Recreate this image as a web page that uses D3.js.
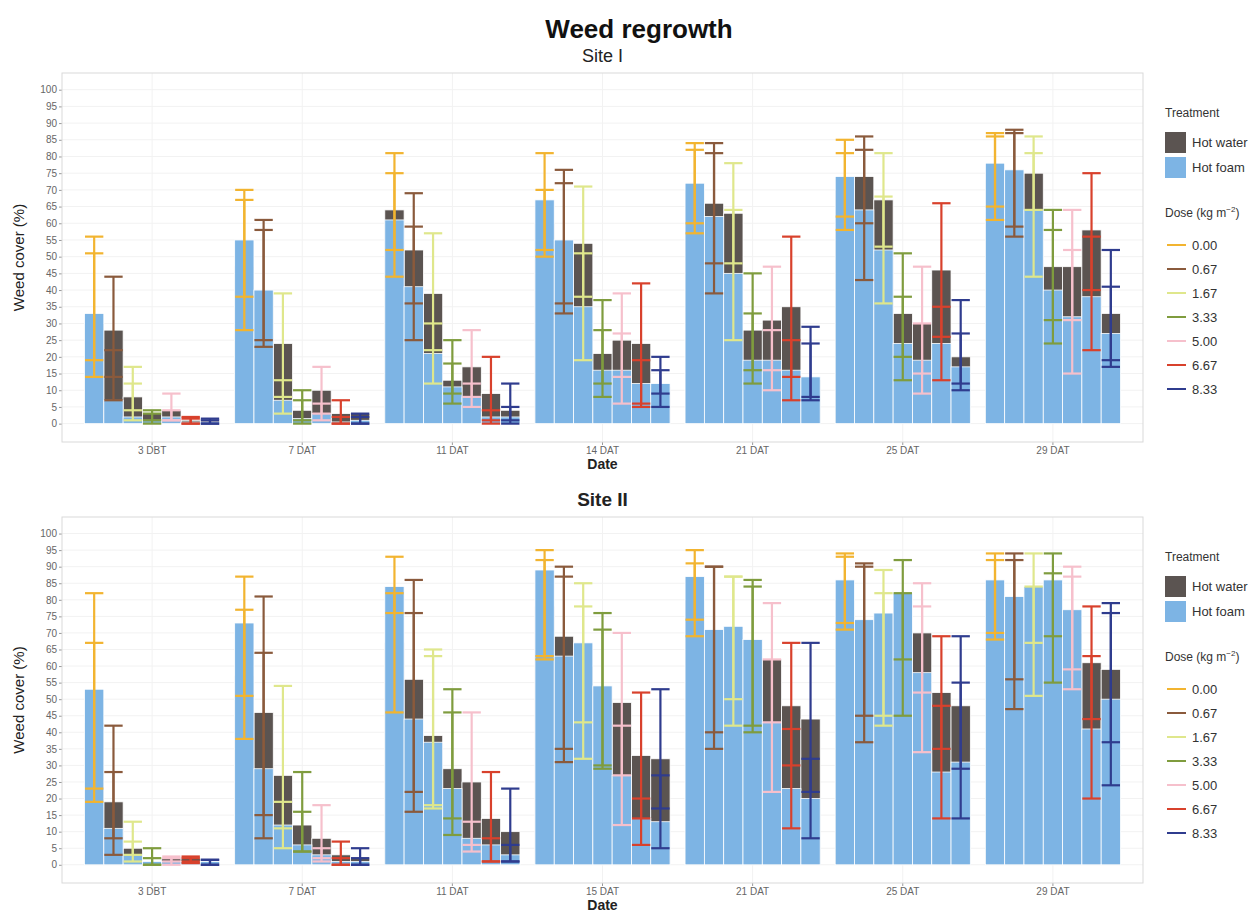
<!DOCTYPE html>
<html>
<head>
<meta charset="utf-8">
<script src="https://cdn.jsdelivr.net/npm/d3@7"></script>
<style>
  body { margin: 0; background: #fff; }
  text { font-family: "Liberation Sans", Arial, sans-serif; }
</style>
</head>
<body>
<div id="chart"></div>
<script>
// ---- data ----
const doses = ["0.00", "0.67", "1.67", "3.33", "5.00", "6.67", "8.33"];
const doseColors = ["#f2b430", "#8a5a3c", "#dfe78c", "#7f9c3e", "#f6c0cc", "#d8412c", "#2f3c8e"];
const treatments = ["Hot water", "Hot foam"];
const treatColors = ["#5b5451", "#7db4e4"];
const yTicks = [0, 5, 10, 15, 20, 25, 30, 35, 40, 45, 50, 55, 60, 65, 70, 75, 80, 85, 90, 95, 100];

// Site I
const dates1 = ["3 DBT", "7 DAT", "11 DAT", "14 DAT", "21 DAT", "25 DAT", "29 DAT"];
const foam1 = [
  [33, 7, 2, 1, 2, 0.5, 0.5],
  [55, 40, 7, 1.5, 3, 0.5, 1],
  [61, 41, 21, 11, 8, 2, 2],
  [67, 55, 35, 16, 16, 12, 12],
  [72, 62, 45, 19, 19, 16, 14],
  [74, 64, 52, 24, 19, 24, 17],
  [78, 76, 64, 40, 32, 38, 27]
];
const water1 = [
  [30, 28, 8, 3, 4, 1, 0.8],
  [47, 38, 24, 4, 10, 3, 3],
  [64, 52, 39, 13, 17, 9, 4],
  [60, 54, 54, 21, 25, 24, 11],
  [70, 66, 63, 28, 31, 35, 13],
  [70, 74, 67, 33, 30, 46, 20],
  [73, 72, 75, 47, 47, 58, 33]
];
const foamLo1 = [
  [14, 7, 1, 0, 1, 0, 0],
  [38, 23, 3, 0, 1, 0, 0],
  [44, 25, 12, 6, 5, 0, 1],
  [52, 36, 19, 8, 6, 5, 5],
  [60, 39, 25, 16, 10, 7, 7],
  [62, 43, 36, 13, 9, 13, 10],
  [65, 59, 44, 24, 15, 22, 19]
];
const foamHi1 = [
  [51, 22, 12, 3, 4, 1.5, 1],
  [70, 58, 13, 7, 6, 2, 2],
  [81, 59, 30, 25, 12, 4, 5],
  [81, 72, 51, 37, 27, 19, 20],
  [84, 84, 64, 33, 28, 25, 24],
  [85, 82, 68, 38, 30, 35, 27],
  [87, 88, 81, 58, 52, 56, 41]
];
const waterLo1 = [
  [19, 14, 4, 1, 1, 0, 0],
  [28, 25, 8, 1, 3, 0, 0],
  [52, 36, 22, 9, 8, 1, 0],
  [50, 33, 38, 12, 14, 6, 9],
  [57, 48, 48, 12, 16, 14, 8],
  [58, 60, 53, 20, 15, 26, 12],
  [61, 56, 64, 31, 31, 40, 17]
];
const waterHi1 = [
  [56, 44, 17, 4, 9, 2, 1.5],
  [67, 61, 39, 10, 17, 7, 3],
  [75, 69, 57, 18, 28, 20, 12],
  [70, 76, 71, 28, 39, 42, 16],
  [82, 81, 78, 45, 47, 56, 29],
  [81, 86, 81, 51, 47, 66, 37],
  [86, 87, 86, 64, 64, 75, 52]
];

// Site II
const dates2 = ["3 DBT", "7 DAT", "11 DAT", "15 DAT", "21 DAT", "25 DAT", "29 DAT"];
const foam2 = [
  [53, 11, 3, 1, 1, 1, 1],
  [73, 29, 12, 6, 3, 1, 1],
  [84, 44, 37, 23, 8, 6, 3],
  [89, 63, 67, 54, 27, 14, 13],
  [87, 71, 72, 68, 43, 23, 20],
  [86, 74, 76, 82, 58, 28, 31],
  [86, 81, 84, 86, 77, 41, 50]
];
const water2 = [
  [43, 19, 5, 1, 2, 2, 1],
  [57, 46, 27, 12, 8, 3, 2],
  [67, 56, 39, 29, 25, 14, 10],
  [78, 69, 60, 50, 49, 33, 32],
  [80, 63, 65, 62, 62, 48, 44],
  [80, 64, 65, 62, 70, 52, 48],
  [80, 70, 67, 70, 70, 61, 59]
];
const foamLo2 = [
  [23, 3, 1, 0, 0, 0.5, 0],
  [51, 8, 5, 4, 1, 0, 0],
  [76, 16, 18, 14, 4, 1, 1],
  [62, 31, 43, 30, 12, 6, 5],
  [74, 40, 50, 42, 22, 11, 8],
  [73, 45, 45, 62, 34, 14, 14],
  [70, 56, 67, 69, 59, 20, 24]
];
const foamHi2 = [
  [82, 42, 7, 5, 2, 2, 1.5],
  [87, 64, 19, 16, 5, 2, 2],
  [93, 76, 65, 46, 13, 8, 6],
  [95, 87, 85, 76, 42, 20, 27],
  [95, 90, 87, 86, 62, 41, 32],
  [94, 91, 89, 92, 78, 48, 55],
  [94, 94, 94, 94, 90, 63, 76]
];
const waterLo2 = [
  [19, 8, 3, 0, 1, 1, 0],
  [38, 15, 11, 4, 2, 0, 0],
  [46, 22, 17, 9, 6, 1, 1],
  [63, 35, 32, 29, 27, 14, 17],
  [69, 35, 42, 40, 43, 30, 22],
  [71, 37, 42, 45, 52, 35, 29],
  [68, 47, 51, 55, 53, 44, 37]
];
const waterHi2 = [
  [67, 28, 13, 2, 2.5, 2.5, 1.5],
  [77, 81, 54, 28, 18, 7, 5],
  [82, 86, 63, 53, 46, 28, 23],
  [92, 90, 78, 71, 70, 52, 53],
  [91, 90, 87, 84, 79, 67, 67],
  [93, 90, 82, 82, 85, 69, 69],
  [92, 92, 84, 88, 87, 78, 79]
];

// ---- layout ----
const width = 1258, height = 915;
const left = 62, right = 1143;

const svg = d3.select("#chart").append("svg")
  .attr("width", width)
  .attr("height", height);

const doseColor = d3.scaleOrdinal().domain(doses).range(doseColors);

svg.append("text")
  .attr("x", 639).attr("y", 38)
  .attr("text-anchor", "middle")
  .style("font-size", "26px").style("font-weight", "bold")
  .attr("fill", "#111")
  .text("Weed regrowth");

function drawPanel(top, bottom, title, titleBold, dates, foam, water, fLo, fHi, wLo, wHi) {

  const x = d3.scaleBand().domain(dates).range([left, right])
    .paddingInner(0.1).paddingOuter(0.15);
  const xd = d3.scaleBand().domain(doses).range([0, x.bandwidth()]);
  const y = d3.scaleLinear().domain([-5.5, 105]).range([bottom, top]);

  const g = svg.append("g");

  g.append("text")
    .attr("x", (left + right) / 2).attr("y", top - 11)
    .attr("text-anchor", "middle")
    .style("font-size", titleBold ? "19px" : "18px")
    .style("font-weight", titleBold ? "bold" : "normal")
    .attr("fill", "#222")
    .text(title);

  // faint grid
  g.append("g").selectAll("line")
    .data(yTicks)
    .join("line")
    .attr("x1", left).attr("x2", right)
    .attr("y1", d => y(d)).attr("y2", d => y(d))
    .attr("stroke", "#f2f2f2");
  g.append("g").selectAll("line")
    .data(dates)
    .join("line")
    .attr("x1", d => x(d) + x.bandwidth() / 2).attr("x2", d => x(d) + x.bandwidth() / 2)
    .attr("y1", top).attr("y2", bottom)
    .attr("stroke", "#f2f2f2");

  const cells = [];
  dates.forEach((dt, i) => doses.forEach((ds, j) => cells.push({
    date: dt, dose: ds,
    foam: foam[i][j], water: water[i][j],
    fLo: fLo[i][j], fHi: fHi[i][j], wLo: wLo[i][j], wHi: wHi[i][j]
  })));

  const bx = d => x(d.date) + xd(d.dose);

  // hot water bars, hot foam drawn over them
  g.append("g").selectAll("rect")
    .data(cells)
    .join("rect")
    .attr("x", bx)
    .attr("width", xd.bandwidth())
    .attr("y", d => y(d.water))
    .attr("height", d => y(0) - y(d.water))
    .attr("fill", treatColors[0])
    .attr("stroke", "#fff").attr("stroke-width", 0.8);

  g.append("g").selectAll("rect")
    .data(cells)
    .join("rect")
    .attr("x", bx)
    .attr("width", xd.bandwidth())
    .attr("y", d => y(d.foam))
    .attr("height", d => y(0) - y(d.foam))
    .attr("fill", treatColors[1])
    .attr("stroke", "#fff").attr("stroke-width", 0.8);

  // error bars, one per treatment, coloured by dose
  const errs = cells.flatMap(d => [
    { date: d.date, dose: d.dose, lo: d.wLo, hi: d.wHi },
    { date: d.date, dose: d.dose, lo: d.fLo, hi: d.fHi }
  ]);
  const capW = xd.bandwidth() * 0.95;

  const eb = g.append("g").selectAll("g")
    .data(errs)
    .join("g")
    .attr("stroke", d => doseColor(d.dose))
    .attr("stroke-width", 2.2)
    .attr("transform", d => `translate(${bx(d) + xd.bandwidth() / 2},0)`);
  eb.append("line")
    .attr("x1", 0).attr("x2", 0)
    .attr("y1", d => y(d.lo)).attr("y2", d => y(d.hi));
  eb.append("line")
    .attr("x1", -capW / 2).attr("x2", capW / 2)
    .attr("y1", d => y(d.lo)).attr("y2", d => y(d.lo));
  eb.append("line")
    .attr("x1", -capW / 2).attr("x2", capW / 2)
    .attr("y1", d => y(d.hi)).attr("y2", d => y(d.hi));

  // axes
  const yAxis = g.append("g")
    .attr("transform", `translate(${left},0)`)
    .call(d3.axisLeft(y).tickValues(yTicks).tickSize(3).tickPadding(2));
  yAxis.select(".domain").remove();
  yAxis.selectAll(".tick line").attr("stroke", "#999");
  yAxis.selectAll("text").attr("fill", "#666").style("font-size", "10px");

  const xAxis = g.append("g")
    .attr("transform", `translate(0,${bottom})`)
    .call(d3.axisBottom(x).tickSize(3).tickPadding(2));
  xAxis.select(".domain").remove();
  xAxis.selectAll(".tick line").attr("stroke", "#999");
  xAxis.selectAll("text").attr("fill", "#666").style("font-size", "10px");

  g.append("rect")
    .attr("x", left).attr("y", top)
    .attr("width", right - left).attr("height", bottom - top)
    .attr("fill", "none")
    .attr("stroke", "#d9d9d9");

  g.append("text")
    .attr("x", (left + right) / 2).attr("y", bottom + 27)
    .attr("text-anchor", "middle")
    .style("font-size", "14px").style("font-weight", "bold")
    .attr("fill", "#222")
    .text("Date");

  g.append("text")
    .attr("transform", `translate(24,${(top + bottom) / 2}) rotate(-90)`)
    .attr("text-anchor", "middle")
    .style("font-size", "15px")
    .attr("fill", "#222")
    .text("Weed cover (%)");

  drawLegend(top + 44);
}

function drawLegend(ty) {
  const lg = svg.append("g").attr("transform", `translate(1165,${ty})`);

  lg.append("text").attr("y", 0)
    .style("font-size", "12px").attr("fill", "#333")
    .text("Treatment");

  const tk = lg.selectAll("g.tk")
    .data(treatments)
    .join("g")
    .attr("class", "tk")
    .attr("transform", (d, i) => `translate(0,${15 + i * 25})`);
  tk.append("rect")
    .attr("width", 21).attr("height", 21)
    .attr("fill", (d, i) => treatColors[i]);
  tk.append("text")
    .attr("x", 27).attr("y", 15)
    .style("font-size", "13px").attr("fill", "#333")
    .text(d => d);

  const dt = lg.append("text").attr("y", 100)
    .style("font-size", "12px").attr("fill", "#333")
    .text("Dose (kg m");
  dt.append("tspan").attr("dy", -5).style("font-size", "8px").text("\u22122");
  dt.append("tspan").attr("dy", 5).text(")");

  const dk = lg.selectAll("g.dk")
    .data(doses)
    .join("g")
    .attr("class", "dk")
    .attr("transform", (d, i) => `translate(0,${128 + i * 24})`);
  dk.append("line")
    .attr("x1", 2).attr("x2", 21)
    .attr("stroke", d => doseColor(d))
    .attr("stroke-width", 2);
  dk.append("text")
    .attr("x", 27).attr("y", 5)
    .style("font-size", "13px").attr("fill", "#333")
    .text(d => d);
}

drawPanel(73, 442, "Site I", false, dates1, foam1, water1, foamLo1, foamHi1, waterLo1, waterHi1);
drawPanel(517, 883, "Site II", true, dates2, foam2, water2, foamLo2, foamHi2, waterLo2, waterHi2);
</script>
</body>
</html>
